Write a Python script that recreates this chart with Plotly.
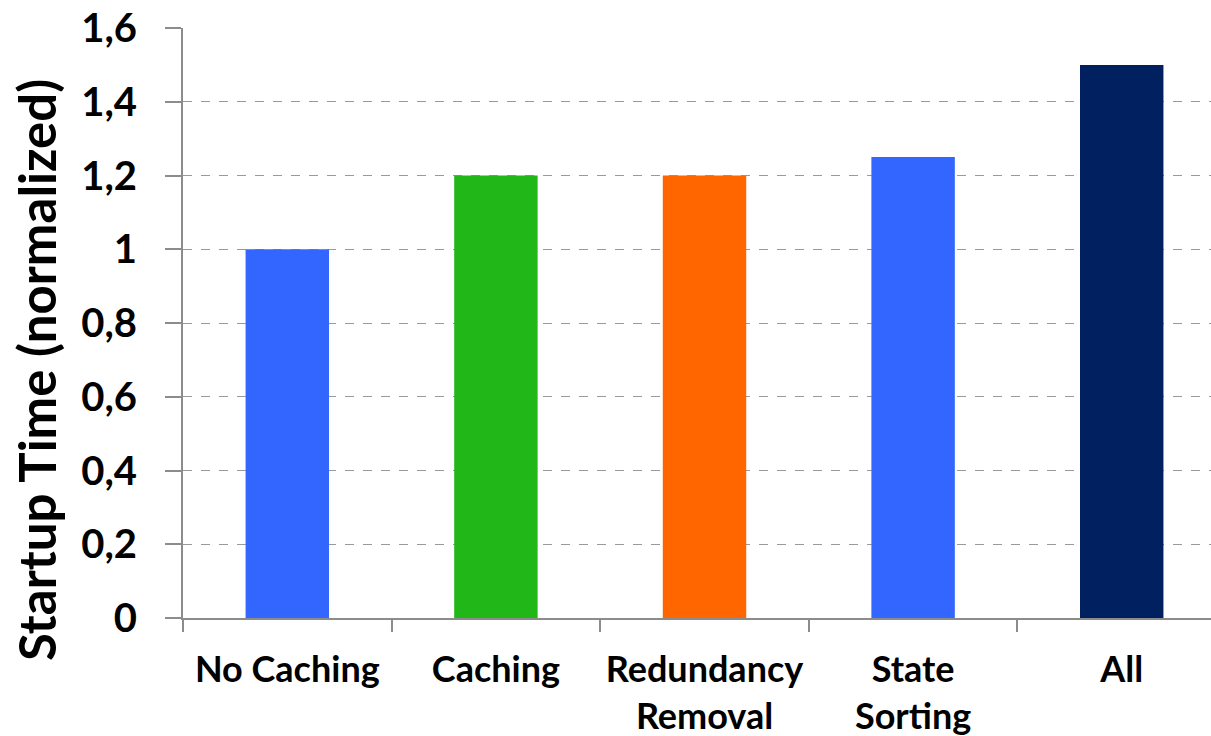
import plotly.graph_objects as go

# Startup time per optimisation, normalised to the uncached baseline
categories = ["No Caching", "Caching", "Redundancy<br>Removal", "State<br>Sorting", "All"]
startup_time = [1.0, 1.2, 1.2, 1.25, 1.5]
bar_colors = ["#3366FF", "#21B718", "#FF6600", "#3366FF", "#002060"]
y_ticks = [0, 0.2, 0.4, 0.6, 0.8, 1.0, 1.2, 1.4, 1.6]
y_tick_labels = ["0", "0,2", "0,4", "0,6", "0,8", "1", "1,2", "1,4", "1,6"]

W, H = 1211, 736
L, R, T, B = 183, 0, 28, 118
FONT = "Lato"

fig = go.Figure(
    go.Bar(
        x=categories,
        y=startup_time,
        marker=dict(color=bar_colors, line=dict(width=0)),
        width=0.4,
    )
)

fig.update_layout(
    width=W,
    height=H,
    margin=dict(l=L, r=R, t=T, b=B, pad=0),
    paper_bgcolor="white",
    plot_bgcolor="white",
    showlegend=False,
    font=dict(family=FONT, color="black"),
)

fig.update_xaxes(
    range=[-0.5, 4.428],
    automargin=False,
    tickangle=0,
    showgrid=False,
    showline=True,
    linecolor="#8c8c8c",
    linewidth=2,
    ticks="outside",
    tickson="boundaries",
    ticklen=12,
    tickwidth=2,
    tickcolor="#8c8c8c",
    tickfont=dict(family=FONT, size=36, color="black", weight="bold"),
    ticklabelstandoff=19,
)

fig.update_yaxes(
    range=[0, 1.6],
    automargin=False,
    tickvals=y_ticks,
    ticktext=y_tick_labels,
    showgrid=True,
    gridcolor="#9a9a9a",
    griddash="dash",
    gridwidth=1,
    showline=True,
    linecolor="#8c8c8c",
    linewidth=2,
    ticks="outside",
    ticklen=16,
    tickwidth=2,
    tickcolor="#8c8c8c",
    tickfont=dict(family=FONT, size=40, color="black", weight="bold"),
    ticklabelstandoff=20,
    zeroline=False,
)

fig.add_annotation(
    text="Startup Time (normalized)",
    xref="paper",
    yref="paper",
    x=(36 - L) / (W - L - R),
    y=(H - B - 370) / (H - T - B),
    xanchor="center",
    yanchor="middle",
    textangle=-90,
    showarrow=False,
    font=dict(family=FONT, size=51, color="black", weight="bold"),
)

fig.write_html("out.html")
